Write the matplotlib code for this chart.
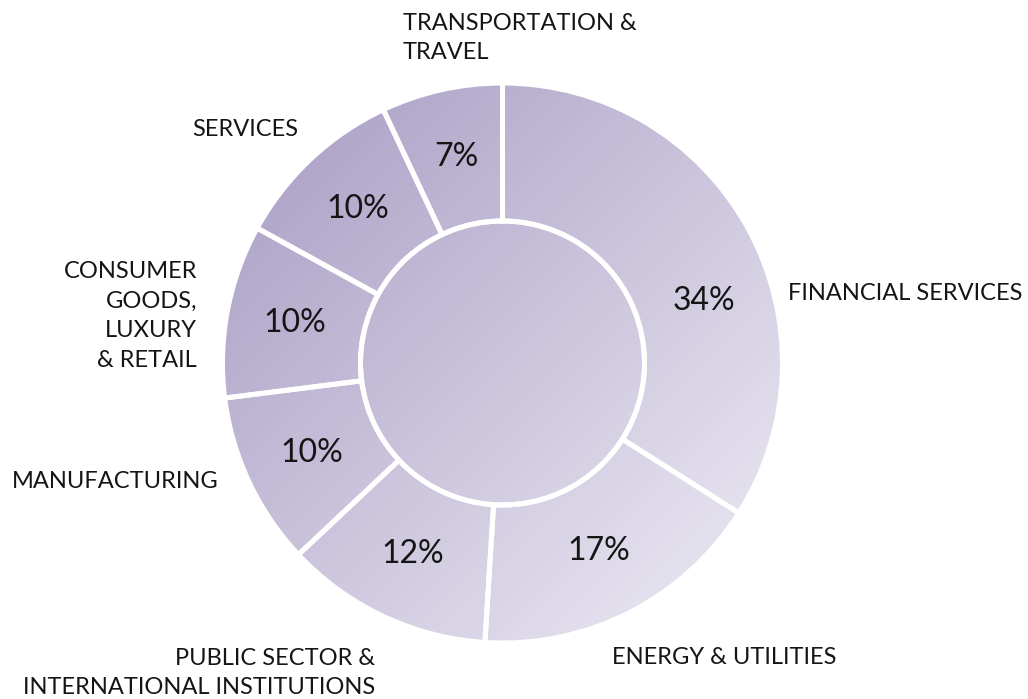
import numpy as np
import matplotlib
matplotlib.use("Agg")
import matplotlib.pyplot as plt
from matplotlib.patches import Circle
from matplotlib.colors import LinearSegmentedColormap

# ---- data ----
categories = ["FINANCIAL SERVICES", "ENERGY & UTILITIES",
              "PUBLIC SECTOR &\nINTERNATIONAL INSTITUTIONS", "MANUFACTURING",
              "CONSUMER\nGOODS,\nLUXURY\n& RETAIL", "SERVICES",
              "TRANSPORTATION &\nTRAVEL"]
values = [34, 17, 12, 10, 10, 10, 7]
pct_labels = ["34%", "17%", "12%", "10%", "10%", "10%", "7%"]

# ---- style / layout ----
W, H = 1028, 699
CX, CY = 502.5, 363
R_OUT, R_IN = 280, 142
pct_angle_offset = [11.8, 0, 0, 0, 0, 0, 0]
# (x, y, ha) for category labels in pixel coords
cat_pos = [(788, 294, "left"), (612, 657, "left"), (375, 673, "right"),
           (12, 481, "left"), (197, 316, "right"), (298, 130, "right"),
           (403, 38, "left")]
FONT = ["Lato", "DejaVu Sans"]
TEXT_COLOR = "#151515"

fig = plt.figure(figsize=(W / 100, H / 100), dpi=100)
ax = fig.add_axes([0, 0, 1, 1])

wedges, _ = ax.pie(values, startangle=-90, counterclock=True,
                   center=(CX, CY), radius=R_OUT, frame=False,
                   wedgeprops=dict(width=R_OUT - R_IN, facecolor="none",
                                   edgecolor="white", linewidth=3.6))

# gradient image (top-left darker -> bottom-right lighter)
cmap = LinearSegmentedColormap.from_list("g", ["#a79bc3", "#efedf5"])
yy, xx = np.mgrid[0:H, 0:W] + 0.5
p0 = np.array([CX - R_OUT, CY - R_OUT])
p1 = np.array([CX + R_OUT, CY + R_OUT])
d = p1 - p0
t = ((xx - p0[0]) * d[0] + (yy - p0[1]) * d[1]) / (d @ d)
t = np.clip(t, 0, 1)
grad = cmap(t)

for w in wedges:
    w.set_zorder(3)
    im = ax.imshow(grad, extent=(0, W, H, 0), origin="upper", zorder=1,
                   interpolation="bilinear")
    im.set_clip_path(w)

inner = Circle((CX, CY), R_IN, facecolor="none", edgecolor="white",
               linewidth=3.6, zorder=3)
ax.add_patch(inner)
im = ax.imshow(grad, extent=(0, W, H, 0), origin="upper", zorder=1,
               interpolation="bilinear")
im.set_clip_path(inner)

# percentage labels
r_lab = (R_OUT + R_IN) / 2
for w, lab, off in zip(wedges, pct_labels, pct_angle_offset):
    th = np.deg2rad((w.theta1 + w.theta2) / 2 + off)
    ax.text(CX + r_lab * np.cos(th), CY + r_lab * np.sin(th), lab,
            ha="center", va="center", fontsize=23, family=FONT,
            color=TEXT_COLOR, zorder=5)

# category labels
for lab, (x, y, ha) in zip(categories, cat_pos):
    ax.text(x, y, lab, ha=ha, va="center", fontsize=17, family=FONT,
            color=TEXT_COLOR, linespacing=1.5, zorder=5)

ax.set_xlim(0, W)
ax.set_ylim(H, 0)
ax.set_aspect("equal")
ax.axis("off")
fig.savefig("out.png", dpi=100, facecolor="white")
